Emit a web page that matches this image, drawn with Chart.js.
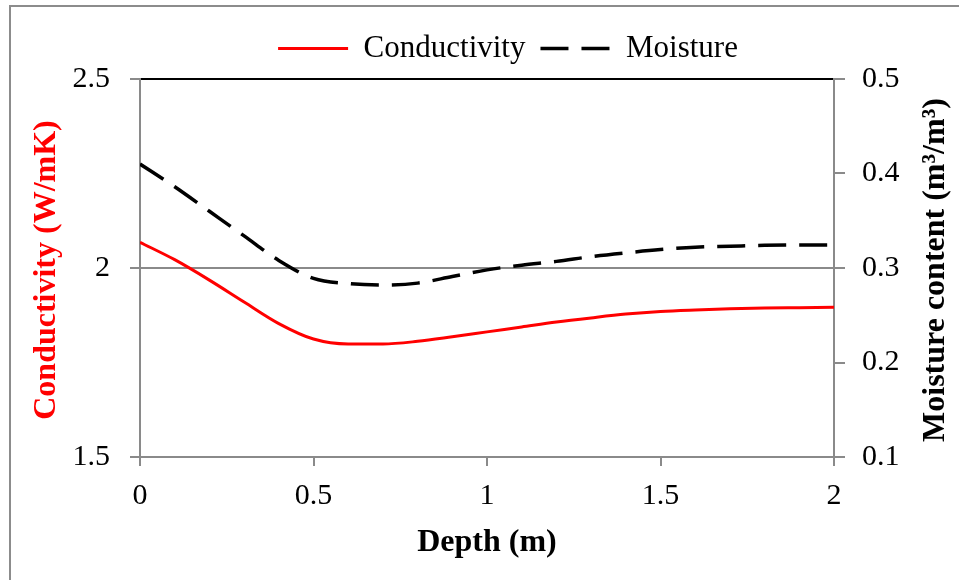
<!DOCTYPE html>
<html lang="en">
<head>
  <meta charset="UTF-8">
  <meta name="viewport" content="width=device-width, initial-scale=1.0">
  <title>Conductivity and Moisture vs. Depth</title>
  <!-- Chart.js library -->
  <script src="https://cdn.jsdelivr.net/npm/chart.js"></script>

  <style>
    body {
      margin: 0;
      background: #fff;
      overflow: hidden;
    }
    /* gray outline of the chart frame (right/bottom edges fall outside the window) */
    #frame {
      position: absolute;
      left: 9px;
      top: 5px;
      width: 1000px;
      height: 700px;
      border: 2px solid #8c8c8c;
    }
    #chartContainer {
      position: absolute;
      left: 0;
      top: 0;
      width: 959px;
      height: 580px;
    }
  </style>
</head>
<body>
  <div id="frame"></div>
  <div id="chartContainer">
    <canvas id="depthChart"></canvas>
  </div>

  <script>
    // Depth below surface (m)
    const depth = [0, 0.1, 0.2, 0.3, 0.4, 0.5, 0.6, 0.7, 0.8, 0.9, 1.0,
                   1.1, 1.2, 1.3, 1.4, 1.5, 1.6, 1.7, 1.8, 1.9, 2.0];

    // Thermal conductivity (W/mK), left axis
    const conductivity = [2.068, 2.022, 1.968, 1.910, 1.853, 1.812, 1.799, 1.799, 1.806, 1.818, 1.831,
                          1.844, 1.857, 1.868, 1.878, 1.885, 1.889, 1.892, 1.894, 1.895, 1.896];

    // Volumetric moisture content (m3/m3), right axis
    const moisture = [0.410, 0.386, 0.360, 0.334, 0.308, 0.289, 0.2835, 0.282, 0.284, 0.291, 0.298,
                      0.303, 0.307, 0.312, 0.316, 0.3195, 0.322, 0.323, 0.324, 0.3243, 0.3245];

    // Axis ranges and tick steps
    const depthRange = [0, 2];
    const depthStep = 0.5;
    const conductivityRange = [1.5, 2.5];
    const conductivityStep = 0.5;
    const moistureRange = [0.1, 0.5];
    const moistureStep = 0.1;

    const seriesNames = ['Conductivity', 'Moisture'];
    const axisTitles = ['Depth (m)', 'Conductivity (W/mK)', 'Moisture content (m\u00B3/m\u00B3)'];

    const SERIF = '"Liberation Serif", "Times New Roman", serif';
    const GRID = '#8a8a8a';
    const tickFont = { family: SERIF, size: 30 };
    const fmt = (v) => String(Math.round(v * 100) / 100);

    // Vertical axis titles, both read bottom-to-top
    const sideTitles = {
      id: 'sideTitles',
      afterDraw(chart) {
        const { ctx, chartArea } = chart;
        const midY = (chartArea.top + chartArea.bottom) / 2 + 2;
        const items = [
          { text: axisTitles[1], x: chartArea.left - 93, color: '#ff0000' },
          { text: axisTitles[2], x: chartArea.right + 102, color: '#000' }
        ];
        ctx.save();
        ctx.font = 'bold 32px ' + SERIF;
        ctx.textAlign = 'center';
        ctx.textBaseline = 'middle';
        items.forEach((it) => {
          ctx.save();
          ctx.translate(it.x, midY);
          ctx.rotate(-Math.PI / 2);
          ctx.fillStyle = it.color;
          ctx.fillText(it.text, 0, 0);
          ctx.restore();
        });
        ctx.restore();
      }
    };

    // a little extra room between the legend and the plot
    const legendGap = {
      id: 'legendGap',
      afterInit(chart) {
        const legend = chart.legend;
        const fit = legend.fit;
        legend.fit = function () {
          fit.call(this);
          this.height += 5;
        };
      }
    };

    // legend samples: take dash and width from the dataset line, not the point
    function lineLabels(chart) {
      const items = Chart.defaults.plugins.legend.labels.generateLabels(chart);
      items.forEach((it) => {
        const ds = chart.data.datasets[it.datasetIndex];
        it.lineDash = ds.borderDash || [];
        it.lineWidth = ds.borderWidth;
        it.strokeStyle = ds.borderColor;
      });
      return items;
    }

    const ctx = document.getElementById('depthChart').getContext('2d');
    const chart = new Chart(ctx, {
      type: 'line',
      data: {
        datasets: [{
          label: seriesNames[0],
          data: depth.map((d, i) => ({ x: d, y: conductivity[i] })),
          yAxisID: 'y',
          borderColor: '#ff0000',
          backgroundColor: '#ff0000',
          borderWidth: 3,
          pointRadius: 0,
          cubicInterpolationMode: 'monotone'
        }, {
          label: seriesNames[1],
          data: depth.map((d, i) => ({ x: d, y: moisture[i] })),
          yAxisID: 'y1',
          borderColor: '#000',
          backgroundColor: '#000',
          borderWidth: 3.5,
          borderDash: [28, 13],
          pointRadius: 0,
          cubicInterpolationMode: 'monotone'
        }]
      },
      options: {
        responsive: true,
        maintainAspectRatio: false,
        animation: false,
        layout: {
          padding: { left: 57, top: 18, right: 0, bottom: 0 }
        },
        scales: {
          x: {
            type: 'linear',
            min: depthRange[0],
            max: depthRange[1],
            ticks: {
              stepSize: depthStep,
              padding: 12,
              color: '#000',
              font: tickFont,
              callback: fmt
            },
            grid: { drawOnChartArea: false, tickLength: 9, color: GRID, lineWidth: 2 },
            border: { color: GRID, width: 2 },
            title: {
              display: true,
              text: axisTitles[0],
              color: '#000',
              font: { family: SERIF, size: 32, weight: 'bold' },
              padding: { top: 0, bottom: 18 }
            },
            afterFit(s) { s.height = 123; }
          },
          y: {
            position: 'left',
            min: conductivityRange[0],
            max: conductivityRange[1],
            ticks: {
              stepSize: conductivityStep,
              padding: 20,
              color: '#000',
              font: tickFont,
              callback: fmt
            },
            grid: {
              color: (c) => (c.tick && c.tick.value === conductivityRange[1] ? '#000' : GRID),
              tickColor: GRID,
              tickLength: 10,
              lineWidth: 2
            },
            border: { color: GRID, width: 2 },
            afterFit(s) { s.width = 83; }
          },
          y1: {
            position: 'right',
            min: moistureRange[0],
            max: moistureRange[1],
            ticks: {
              stepSize: moistureStep,
              padding: 17,
              color: '#000',
              font: tickFont,
              callback: fmt
            },
            grid: { drawOnChartArea: false, tickLength: 11, color: GRID, lineWidth: 2 },
            border: { color: GRID, width: 2 },
            afterFit(s) { s.width = 125; }
          }
        },
        plugins: {
          legend: {
            position: 'top',
            labels: {
              usePointStyle: true,
              pointStyle: 'line',
              pointStyleWidth: 70,
              padding: 15,
              color: '#000',
              font: { family: SERIF, size: 31 },
              generateLabels: lineLabels
            }
          },
          tooltip: { enabled: false }
        }
      },
      plugins: [sideTitles, legendGap]
    });
  </script>
</body>
</html>
